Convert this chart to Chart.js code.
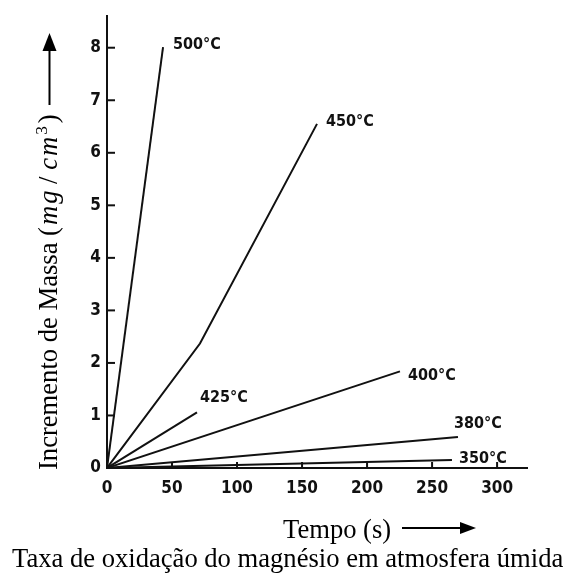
<!DOCTYPE html>
<html>
<head>
<meta charset="utf-8">
<script src="https://cdn.jsdelivr.net/npm/chart.js@4/dist/chart.umd.min.js"></script>
<style>
  html, body { margin: 0; padding: 0; background: #fff; }
  canvas { display: block; }
</style>
</head>
<body>
<canvas id="oxidationChart" width="567" height="574"></canvas>
<script>
// curve names and values (time in s, mass gain in mg/cm3)
const curveLabels = ["500°C", "450°C", "425°C", "400°C", "380°C", "350°C"];
const time500 = [0, 43.1];
const mass500 = [0, 8.01];
const time450 = [0, 71.5, 161.5];
const mass450 = [0, 2.37, 6.55];
const time425 = [0, 69.2];
const mass425 = [0, 1.06];
const time400 = [0, 225.3];
const mass400 = [0, 1.84];
const time380 = [0, 269.9];
const mass380 = [0, 0.59];
const time350 = [0, 265.3];
const mass350 = [0, 0.15];
const xTicks = [0, 50, 100, 150, 200, 250, 300];
const yTicks = [0, 1, 2, 3, 4, 5, 6, 7, 8];

const ink = "#111";
const tickFont = "'DejaVu Sans Condensed', 'DejaVu Sans', sans-serif";
const serif = "'Liberation Serif', 'Times New Roman', serif";

function toPoints(xs, ys) {
  return xs.map((x, i) => ({ x: x, y: ys[i] }));
}

const series = [
  toPoints(time500, mass500),
  toPoints(time450, mass450),
  toPoints(time425, mass425),
  toPoints(time400, mass400),
  toPoints(time380, mass380),
  toPoints(time350, mass350),
];

// where each curve label sits, relative to the end of its line (px)
const labelOffsets = [[10, -2], [9, -2], [3, -14], [8, 5], [-4, -13], [7, -1]];

const inwardTicks = {
  id: "inwardTicks",
  afterDraw(chart) {
    const { ctx, chartArea, scales } = chart;
    ctx.save();
    ctx.strokeStyle = ink;
    ctx.lineWidth = 2;
    yTicks.forEach((v) => {
      const y = scales.y.getPixelForValue(v);
      ctx.beginPath();
      ctx.moveTo(chartArea.left, y);
      ctx.lineTo(chartArea.left + 8, y);
      ctx.stroke();
    });
    xTicks.forEach((v) => {
      const x = scales.x.getPixelForValue(v);
      ctx.beginPath();
      ctx.moveTo(x, chartArea.bottom);
      ctx.lineTo(x, chartArea.bottom - 6);
      ctx.stroke();
    });
    ctx.restore();
  },
};

const curveNames = {
  id: "curveNames",
  afterDatasetsDraw(chart) {
    const { ctx } = chart;
    ctx.save();
    ctx.fillStyle = ink;
    ctx.font = "bold 16px " + tickFont;
    ctx.textAlign = "left";
    ctx.textBaseline = "middle";
    chart.data.datasets.forEach((ds, i) => {
      const pts = chart.getDatasetMeta(i).data;
      const end = pts[pts.length - 1];
      const off = labelOffsets[i];
      ctx.fillText(ds.label, end.x + off[0], end.y + off[1]);
    });
    ctx.restore();
  },
};

function drawArrowHead(ctx, tipX, tipY, len, half) {
  ctx.beginPath();
  ctx.moveTo(tipX, tipY);
  ctx.lineTo(tipX - len, tipY - half);
  ctx.lineTo(tipX - len, tipY + half);
  ctx.closePath();
  ctx.fill();
}

const axisTitles = {
  id: "axisTitles",
  afterDraw(chart) {
    const { ctx } = chart;
    const size = 26.6;
    ctx.save();
    ctx.fillStyle = "#000";
    ctx.strokeStyle = "#000";
    ctx.textBaseline = "alphabetic";
    ctx.textAlign = "left";

    // vertical title, read bottom to top
    ctx.save();
    ctx.translate(57, 470);
    ctx.rotate(-Math.PI / 2);
    // text, style, size, raise, gap after
    const parts = [
      ["Incremento de Massa (", "", size, 0, 2],
      ["m", "italic ", size, 0, 2],
      ["g", "italic ", size, 0, 0],
      [" / ", "", size, 0, 0],
      ["c", "italic ", size, 0, 2],
      ["m", "italic ", size, 0, 2],
      ["3", "", size * 0.65, -size * 0.38, 3],
      [")", "", size, 0, 0],
    ];
    let x = 0;
    parts.forEach(([text, style, fs, shift, gap]) => {
      ctx.font = style + fs + "px " + serif;
      ctx.fillText(text, x, shift);
      x += ctx.measureText(text).width + gap;
    });
    // arrow pointing up
    ctx.lineWidth = 2;
    ctx.beginPath();
    ctx.moveTo(365, -7.5);
    ctx.lineTo(422, -7.5);
    ctx.stroke();
    drawArrowHead(ctx, 437, -7.5, 18, 7);
    ctx.restore();

    // horizontal title with arrow
    ctx.font = size + "px " + serif;
    ctx.fillText("Tempo (s)", 283, 538);
    ctx.lineWidth = 2;
    ctx.beginPath();
    ctx.moveTo(402, 528);
    ctx.lineTo(464, 528);
    ctx.stroke();
    drawArrowHead(ctx, 476, 528, 16, 6);

    // caption
    ctx.fillText("Taxa de oxidação do magnésio em atmosfera úmida", 12, 567);
    ctx.restore();
  },
};

new Chart(document.getElementById("oxidationChart"), {
  type: "scatter",
  data: {
    datasets: series.map((pts, i) => ({
      label: curveLabels[i],
      data: pts,
      showLine: true,
      borderColor: ink,
      borderWidth: 2,
      pointRadius: 0,
      tension: 0,
    })),
  },
  options: {
    responsive: false,
    animation: false,
    devicePixelRatio: 1,
    layout: { padding: { left: 0, top: 15, right: 40, bottom: 0 } },
    plugins: {
      legend: { display: false },
      tooltip: { enabled: false },
    },
    scales: {
      x: {
        type: "linear",
        min: 0,
        max: 323,
        afterFit: (s) => { s.height = 106; },
        afterBuildTicks: (s) => { s.ticks = xTicks.map((v) => ({ value: v })); },
        ticks: {
          color: ink,
          font: { family: tickFont, size: 17, weight: "bold" },
          padding: 10,
          maxRotation: 0,
        },
        grid: { drawOnChartArea: false, drawTicks: false },
        border: { color: ink, width: 2 },
      },
      y: {
        min: 0,
        max: 8.6,
        afterFit: (s) => { s.width = 107; },
        afterBuildTicks: (s) => { s.ticks = yTicks.map((v) => ({ value: v })); },
        ticks: {
          color: ink,
          font: { family: tickFont, size: 17, weight: "bold" },
          padding: 6,
        },
        grid: { drawOnChartArea: false, drawTicks: false },
        border: { color: ink, width: 2 },
      },
    },
  },
  plugins: [inwardTicks, curveNames, axisTitles],
});
</script>
</body>
</html>
